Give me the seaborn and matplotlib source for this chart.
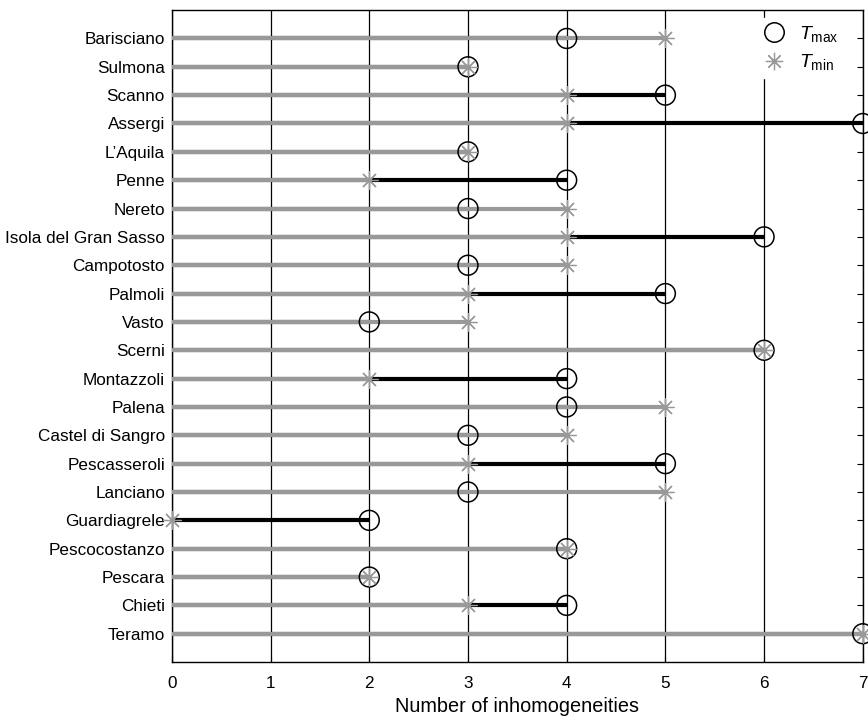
import numpy as np
import matplotlib
matplotlib.use("Agg")
import matplotlib.pyplot as plt
import seaborn as sns

stations = ["Barisciano", "Sulmona", "Scanno", "Assergi", "L\u2019Aquila", "Penne",
            "Nereto", "Isola del Gran Sasso", "Campotosto", "Palmoli", "Vasto",
            "Scerni", "Montazzoli", "Palena", "Castel di Sangro", "Pescasseroli",
            "Lanciano", "Guardiagrele", "Pescocostanzo", "Pescara", "Chieti", "Teramo"]
tmax = [4, 3, 5, 7, 3, 4, 3, 6, 3, 5, 2, 6, 4, 4, 3, 5, 3, 2, 4, 2, 4, 7]
tmin = [5, 3, 4, 4, 3, 2, 4, 4, 4, 3, 3, 6, 2, 5, 4, 3, 5, 0, 4, 2, 3, 7]
xticks = [0, 1, 2, 3, 4, 5, 6, 7]

sns.set_style("ticks")
plt.rcParams["font.family"] = ["Liberation Sans", "DejaVu Sans"]
plt.rcParams["mathtext.fontset"] = "custom"
plt.rcParams["mathtext.rm"] = "Liberation Sans"
plt.rcParams["mathtext.it"] = "Liberation Sans:italic"
plt.rcParams["text.color"] = "black"
plt.rcParams["axes.labelcolor"] = "black"
plt.rcParams["xtick.color"] = "black"
plt.rcParams["ytick.color"] = "black"

fig = plt.figure(figsize=(8.68, 7.22), dpi=100)
ax = fig.add_axes([0.198, 0.083, 0.796, 0.903])

pos = np.arange(1, len(stations) + 1)
gray = "#999999"

# vertical grid
for x in xticks:
    ax.axvline(x, color="black", lw=0.9, zorder=1)

# black segment up to Tmax, gray segment up to Tmin drawn over it
ax.hlines(pos, 0, tmax, color="black", lw=3.0, zorder=2)
ax.hlines(pos, 0, tmin, color=gray, lw=3.0, zorder=3)

sns.scatterplot(x=tmax, y=pos, ax=ax, marker="o", s=205, facecolor="none",
                edgecolor="black", linewidth=1.1, zorder=4, clip_on=False)
sns.scatterplot(x=tmin, y=pos, ax=ax, marker=(8, 2, 0), s=160, color=gray,
                edgecolor=gray, linewidth=0.9, zorder=5, clip_on=False)

# legend
h1 = plt.Line2D([], [], ls="none", marker="o", ms=14, mfc="none", mec="black", mew=1.1)
h2 = plt.Line2D([], [], ls="none", marker=(8, 2, 0), ms=12.5, color=gray, mew=0.9)
leg = ax.legend([h1, h2], [r"$T_{\mathrm{max}}$", r"$T_{\mathrm{min}}$"],
                loc="upper right", frameon=True, fontsize=14, handletextpad=0.5,
                borderaxespad=0.4, labelspacing=0.45, borderpad=0.3,
                handlelength=1.6, bbox_to_anchor=(0.985, 1.0))
leg.get_frame().set_edgecolor("white")
leg.get_frame().set_facecolor("white")
leg.get_frame().set_alpha(1)
leg.set_zorder(6)

ax.set_xlim(0, 7)
ax.set_ylim(len(stations) + 1, 0)
ax.set_xticks(xticks)
ax.set_yticks(pos)
ax.set_yticklabels(stations)
ax.tick_params(axis="both", direction="in", labelsize=12.3, length=4, color="black",
               right=True, top=False)
ax.tick_params(axis="x", pad=10)
ax.tick_params(axis="y", pad=5)
ax.set_xlabel("Number of inhomogeneities", fontsize=14.3, labelpad=4)
for s in ax.spines.values():
    s.set_visible(True)
    s.set_color("black")
    s.set_linewidth(1.0)

fig.savefig("out.png", dpi=100)
